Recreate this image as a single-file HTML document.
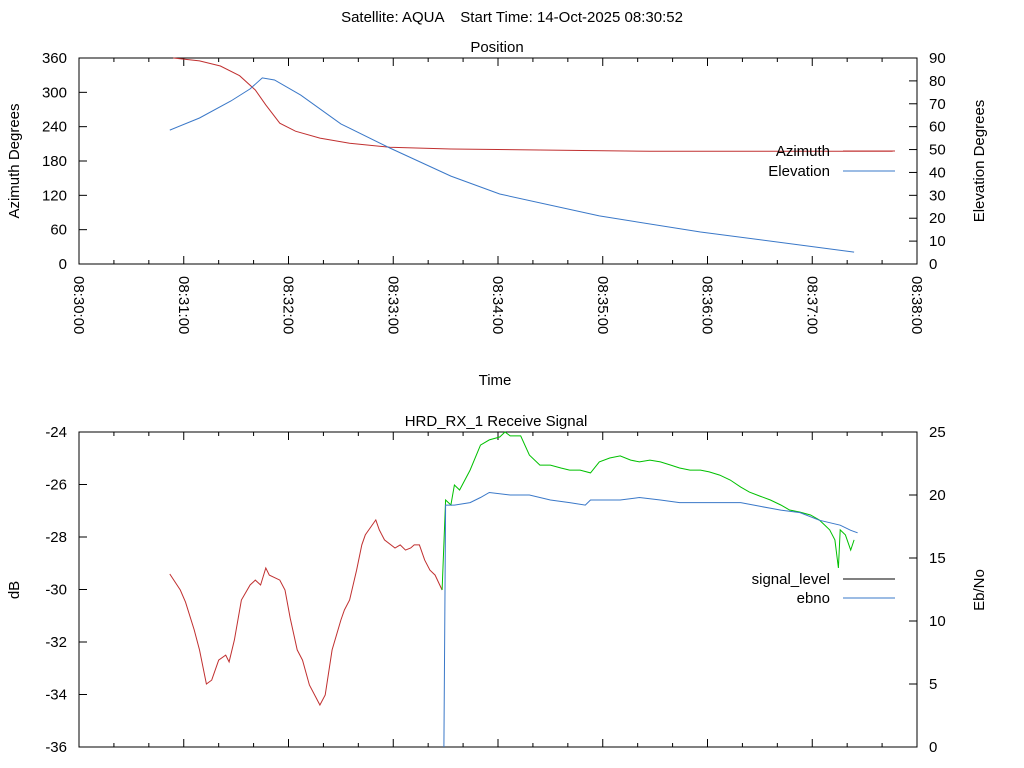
<!DOCTYPE html>
<html><head><meta charset="utf-8"><style>
html,body{margin:0;padding:0;background:#fff;}
svg{display:block;font-family:"Liberation Sans","DejaVu Sans",sans-serif;}
</style></head><body>
<svg id="chart" width="1024" height="768" viewBox="0 0 1024 768" xmlns="http://www.w3.org/2000/svg">
<text x="512" y="22" font-size="15" text-anchor="middle" style="white-space:pre">Satellite: AQUA    Start Time: 14-Oct-2025 08:30:52</text>
<g id="topg"></g>
<g id="botg"></g>
</svg>
<script>
// ---- Position chart data (seconds after 08:30:00) ----
const azTime=[54,69,81,92,101,107,115,124,138,155,178,213,270,327,466];
const azVal=[360,355,346,329,304,278,246,232,220,211,204,201,199,197,197];
const elTime=[52,69,87,98,105,112,127,150,178,213,241,298,356,413,444];
const elVal=[58.5,63.8,71.2,76.5,81.3,80.4,73.8,61.2,50.7,38.4,30.6,21,14,8.3,5.2];
const azTicks=[0,60,120,180,240,300,360];
const elTicks=[0,10,20,30,40,50,60,70,80,90];
const timeLabels=["08:30:00","08:31:00","08:32:00","08:33:00","08:34:00","08:35:00","08:36:00","08:37:00","08:38:00"];
// ---- Receive signal data ----
const sigLowTime=[52,58,61,66,69,73,76,80,84,86,89,93,98,101,104,107,109,115,118,121,125,128,132,138,141,145,150,152,155,159,162,164,170,172,175,181,184,187,190,192,195,198,201,204,208];
const sigLowVal=[-29.41,-30.02,-30.48,-31.54,-32.30,-33.60,-33.45,-32.69,-32.50,-32.76,-31.92,-30.40,-29.83,-29.64,-29.83,-29.18,-29.45,-29.64,-30.02,-31.09,-32.30,-32.69,-33.64,-34.40,-34.02,-32.30,-31.16,-30.78,-30.40,-29.26,-28.30,-27.92,-27.35,-27.73,-28.11,-28.42,-28.30,-28.50,-28.42,-28.30,-28.30,-28.88,-29.26,-29.45,-30.02];
const sigHighTime=[208,210,213,215,218,224,230,235,241,244,247,253,258,264,270,276,281,287,293,298,304,310,316,321,327,333,339,344,350,356,361,367,373,379,384,390,396,402,407,413,419,424,427,430,433,435,436,439,442,444];
const sigHighVal=[-30.02,-26.59,-26.78,-26.02,-26.21,-25.45,-24.50,-24.30,-24.19,-24.00,-24.15,-24.15,-24.88,-25.26,-25.26,-25.37,-25.45,-25.45,-25.56,-25.14,-24.99,-24.91,-25.07,-25.14,-25.07,-25.14,-25.26,-25.37,-25.45,-25.45,-25.52,-25.64,-25.83,-26.10,-26.29,-26.44,-26.59,-26.78,-26.97,-27.05,-27.16,-27.35,-27.54,-27.73,-28.11,-29.18,-27.73,-27.92,-28.50,-28.11];
const ebTime=[209,210,215,224,230,235,247,258,270,281,290,293,310,321,333,344,356,367,379,390,402,413,424,436,442,446];
const ebVal=[0,19.2,19.2,19.4,19.8,20.2,20.0,20.0,19.6,19.4,19.2,19.6,19.6,19.8,19.6,19.4,19.4,19.4,19.4,19.1,18.8,18.6,18.0,17.6,17.2,17.0];
const dbTicks=[-36,-34,-32,-30,-28,-26,-24];
const ebTicks=[0,5,10,15,20,25];

const NS="http://www.w3.org/2000/svg";
function mk(parent,tag,attrs,txt){const e=document.createElementNS(NS,tag);for(const k in attrs)e.setAttribute(k,attrs[k]);if(txt!==undefined)e.textContent=txt;parent.appendChild(e);return e;}
const X0=79,X1=917;
const xs=t=>X0+(X1-X0)*t/480;

function frame(g,T,B,name){
  const r=mk(g,'rect',{x:X0,y:T,width:X1-X0,height:B-T,fill:'none',stroke:'#000','stroke-width':1});
  
  
  for(let s=0;s<=480;s+=20){
    const x=xs(s),len=(s%60===0)?8:4;
    const a=mk(g,'line',{x1:x,x2:x,y1:B,y2:B-len,stroke:'#000'});
    
    
    const b=mk(g,'line',{x1:x,x2:x,y1:T,y2:T+len,stroke:'#000'});
    
    
  }
}
function yAxis(g,ticks,min,max,T,B,side,name){
  ticks.forEach(v=>{
    const y=B-(v-min)/(max-min)*(B-T);
    const x=side==='l'?X0:X1, d=side==='l'?8:-8;
    const l=mk(g,'line',{x1:x,x2:x+d,y1:y,y2:y,stroke:'#000'});
    
    
    const t=mk(g,'text',{x:side==='l'?X0-12:X1+12,y:y+5,'font-size':15,'text-anchor':side==='l'?'end':'start'},String(v));
    
    
  });
}
function line(g,tA,vA,min,max,T,B,color,name){
  const pts=tA.map((t,i)=>xs(t).toFixed(1)+','+(B-(vA[i]-min)/(max-min)*(B-T)).toFixed(1)).join(' ');
  const p=mk(g,'polyline',{points:pts,fill:'none',stroke:color,'stroke-width':1});
  
  
}
function legend(g,label,y,color,name){
  const t=mk(g,'text',{x:830,y:y+5,'font-size':15,'text-anchor':'end'},label);
  
  
  const l=mk(g,'line',{x1:843,x2:895,y1:y,y2:y,stroke:color});
  
  
}
// ---- top chart ----
const topG=document.getElementById('topg');
const TT=58,TB=264;
let t=mk(topG,'text',{x:497,y:52,'font-size':15,'text-anchor':'middle'},'Position');


frame(topG,TT,TB,'position');
yAxis(topG,azTicks,0,360,TT,TB,'l','azimuth-axis');
yAxis(topG,elTicks,0,90,TT,TB,'r','elevation-axis');
timeLabels.forEach((s,i)=>{
  const x=xs(i*60);
  const e=mk(topG,'text',{x:0,y:0,'font-size':15,transform:`translate(${x-5},${TB+12}) rotate(90)`},s);
  
  
});
t=mk(topG,'text',{x:495,y:385,'font-size':15,'text-anchor':'middle'},'Time');


t=mk(topG,'text',{x:0,y:0,'font-size':15,'text-anchor':'middle',transform:'translate(19,161) rotate(-90)'},'Azimuth Degrees');


t=mk(topG,'text',{x:0,y:0,'font-size':15,'text-anchor':'middle',transform:'translate(984,161) rotate(-90)'},'Elevation Degrees');


line(topG,azTime,azVal,0,360,TT,TB,'#c03030','azimuth-line');
line(topG,elTime,elVal,0,90,TT,TB,'#3a78c8','elevation-line');
legend(topG,'Azimuth',151,'#c03030','legend-azimuth');
legend(topG,'Elevation',171,'#3a78c8','legend-elevation');
// ---- bottom chart ----
const botG=document.getElementById('botg');
const BT=432,BB=747;
t=mk(botG,'text',{x:496,y:426,'font-size':15,'text-anchor':'middle'},'HRD_RX_1 Receive Signal');


frame(botG,BT,BB,'signal');
yAxis(botG,dbTicks,-36,-24,BT,BB,'l','db-axis');
yAxis(botG,ebTicks,0,25,BT,BB,'r','ebno-axis');
t=mk(botG,'text',{x:0,y:0,'font-size':15,'text-anchor':'middle',transform:'translate(19,590) rotate(-90)'},'dB');


t=mk(botG,'text',{x:0,y:0,'font-size':15,'text-anchor':'middle',transform:'translate(984,590) rotate(-90)'},'Eb/No');


line(botG,sigLowTime,sigLowVal,-36,-24,BT,BB,'#c03030','signal-level-low-line');
line(botG,sigHighTime,sigHighVal,-36,-24,BT,BB,'#00c000','signal-level-high-line');
line(botG,ebTime,ebVal,0,25,BT,BB,'#3a78c8','ebno-line');
legend(botG,'signal_level',579,'#000','legend-signal-level');
legend(botG,'ebno',598,'#3a78c8','legend-ebno');
</script>
</body></html>
